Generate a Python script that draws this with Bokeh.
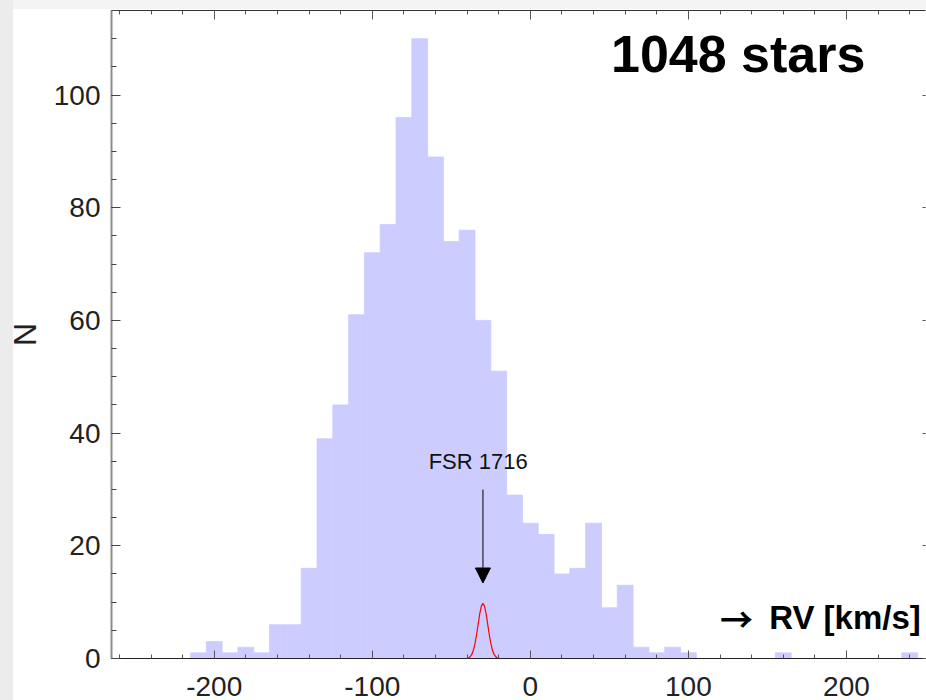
from bokeh.plotting import figure
from bokeh.models import (Range1d, LinearAxis, FixedTicker, Label, Arrow,
                          NormalHead, ColumnDataSource, CustomJSTickFormatter)
from bokeh.layouts import column
from bokeh.embed import file_html
from bokeh.resources import INLINE

# ---------------- data ----------------
bin_width = 10
bin_centers = list(range(-210, 250, 10))
counts = [1, 3, 1, 2, 1, 6, 6, 16, 39, 45, 61, 72, 77, 96, 110, 89, 74, 76, 60, 51,
          29, 24, 22, 15, 16, 24, 9, 13, 2, 1, 2, 1,
          0, 0, 0, 0, 0, 1, 0, 0, 0, 0, 0, 0, 0, 1]

cluster_name = "FSR 1716"
cluster_rv = -30
gauss_x = [-265, -41, -40, -39, -38, -37, -36, -35, -34, -33, -32, -31, -30,
           -29, -28, -27, -26, -25, -24, -23, -22, -21, -20, -19, 250]
gauss_y = [0, 0, 0.05, 0.14, 0.35, 0.77, 1.5, 2.67, 4.26, 6.1, 7.96, 9.3, 9.8,
           9.3, 7.96, 6.1, 4.26, 2.67, 1.5, 0.77, 0.35, 0.14, 0.05, 0, 0]

x_major = [-200, -100, 0, 100, 200]
x_major_labels = ["-200", "-100", "0", "100", "200"]
x_minor = list(range(-260, 260, 20))
y_major = [0, 20, 40, 60, 80, 100]
y_minor = list(range(0, 116, 5))

n_stars_text = "1048 stars"
x_title_arrow = "\u2192"
x_title = "RV [km/s]"
y_title = "N"

# ---------------- figure ----------------
FONT = "Liberation Sans"
p = figure(width=926, height=700, x_range=Range1d(-265, 250), y_range=Range1d(0, 115),
           output_backend="svg", toolbar_location=None,
           min_border_left=111, min_border_right=1, min_border_top=10, min_border_bottom=42,
           background_fill_color="white", border_fill_color=None)
p.outline_line_color = None
p.grid.visible = False

src = ColumnDataSource(dict(
    left=[c - bin_width / 2 for c in bin_centers],
    right=[c + bin_width / 2 for c in bin_centers],
    top=counts, bottom=[0] * len(counts)))
p.quad(left="left", right="right", top="top", bottom="bottom", source=src,
       fill_color="#ccccff", line_color="#ccccff", line_width=0.8)

# bottom axis
xa = p.xaxis[0]
xa.ticker = FixedTicker(ticks=x_major, minor_ticks=x_minor)
xa.major_label_overrides = dict(zip(x_major, x_major_labels))
xa.axis_line_color = "#222222"
xa.axis_line_width = 1
xa.major_tick_in = 8
xa.major_tick_out = 0
xa.minor_tick_in = 4
xa.minor_tick_out = 0
xa.major_tick_line_color = "#555555"
xa.minor_tick_line_color = "#555555"
xa.major_label_text_font = FONT
xa.major_label_text_font_size = "28px"
xa.major_label_text_color = "#222222"
xa.major_label_standoff = 18

# left axis
ya = p.yaxis[0]
ya.ticker = FixedTicker(ticks=y_major, minor_ticks=y_minor)
ya.axis_line_color = "#8c8c8c"
ya.axis_line_width = 2
ya.major_tick_in = 9
ya.major_tick_out = 0
ya.minor_tick_in = 5
ya.minor_tick_out = 0
ya.major_tick_line_color = "#444444"
ya.minor_tick_line_color = "#444444"
ya.major_label_text_font = FONT
ya.major_label_text_font_size = "28px"
ya.major_label_text_color = "#222222"
ya.major_label_standoff = 11
ya.axis_label = y_title
ya.axis_label_text_font = FONT
ya.axis_label_text_font_size = "32px"
ya.axis_label_text_font_style = "normal"
ya.axis_label_text_color = "#222222"
ya.axis_label_standoff = 8

blank = CustomJSTickFormatter(code="return ''")
top = LinearAxis(ticker=FixedTicker(ticks=x_major, minor_ticks=x_minor), formatter=blank,
                 axis_line_color="#333333", major_tick_in=9, major_tick_out=0,
                 minor_tick_in=4, minor_tick_out=0,
                 major_tick_line_color="#555555", minor_tick_line_color="#555555",
                 major_label_text_font_size="0px", major_label_standoff=0)
p.add_layout(top, "above")
right = LinearAxis(ticker=FixedTicker(ticks=y_major, minor_ticks=[]), formatter=blank,
                   axis_line_color=None, major_tick_in=3, major_tick_out=0,
                   minor_tick_in=0, minor_tick_out=0,
                   major_tick_line_color="#555555",
                   major_label_text_font_size="0px", major_label_standoff=0)
p.add_layout(right, "right")

# cluster gaussian (drawn across full range, over the axis line)
p.line(gauss_x, gauss_y, line_color="red", line_width=1.2)

# arrow + labels
p.add_layout(Arrow(end=NormalHead(size=15, fill_color="black", line_color="black", line_width=1),
                   x_start=cluster_rv, y_start=30, x_end=cluster_rv, y_end=13.4,
                   line_color="#333333", line_width=1.3))
p.add_layout(Label(x=cluster_rv - 3, y=34.9, text=cluster_name, text_align="center",
                   text_baseline="alphabetic", text_font=FONT, text_font_size="22px",
                   text_color="#111111"))
p.add_layout(Label(x=51, y=107.2, text=n_stars_text, text_align="left",
                   text_baseline="alphabetic", text_font=FONT, text_font_size="52px",
                   text_font_style="bold", text_color="black"))
p.add_layout(Label(x=120, y=7.2, text=x_title_arrow, text_align="left",
                   text_baseline="alphabetic", text_font="Noto Sans CJK JP", text_font_size="33px",
                   text_font_style="bold", text_color="black"))
p.add_layout(Label(x=247, y=7.2, text=x_title, text_align="right",
                   text_baseline="alphabetic", text_font=FONT, text_font_size="33px",
                   text_font_style="bold", text_color="black"))

layout = column(p, styles={
    "background": "linear-gradient(to right, #ececec 0px, #ececec 13px, transparent 13px), "
                  "linear-gradient(to bottom, #f4f4f4 0px, #f4f4f4 9px, white 9px)"})
open("out.html", "w").write(file_html(layout, INLINE))
